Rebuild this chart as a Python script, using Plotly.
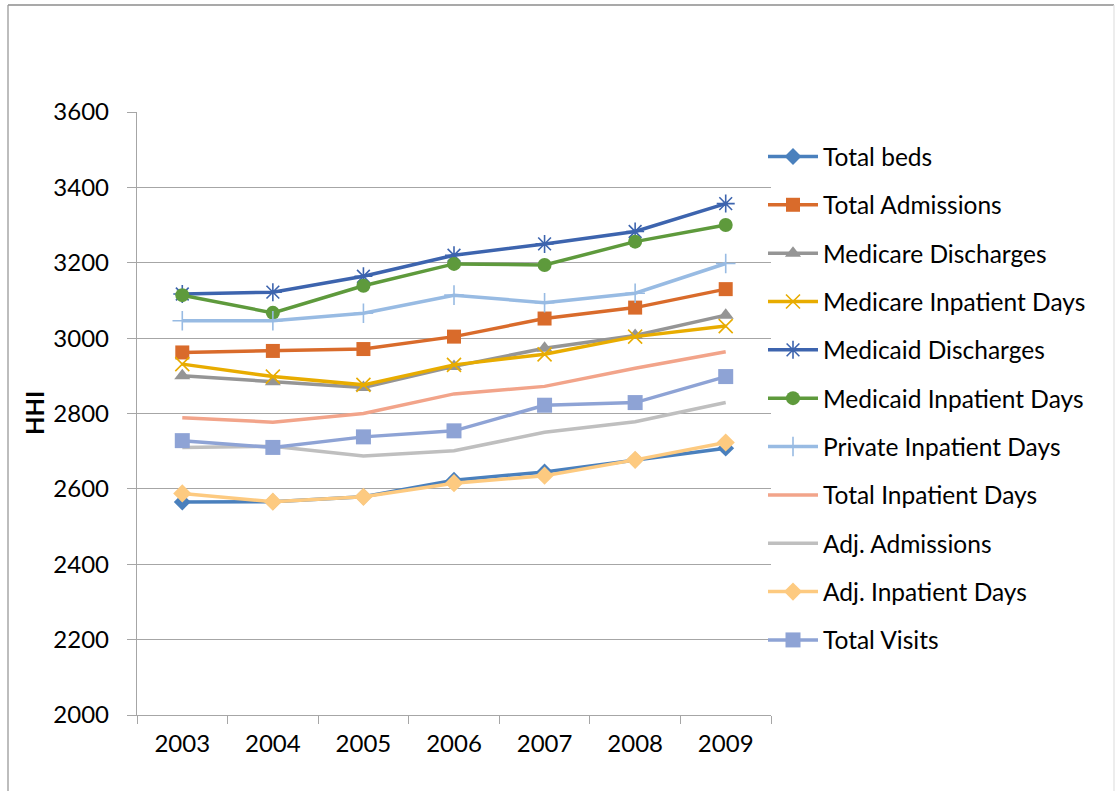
import plotly.graph_objects as go

# HHI by measure, 2003-2009
years = ["2003", "2004", "2005", "2006", "2007", "2008", "2009"]

total_beds = [2565, 2566, 2579, 2623, 2645, 2677, 2708]
total_admissions = [2962, 2966, 2971, 3004, 3052, 3081, 3130]
medicare_discharges = [2900, 2884, 2869, 2925, 2973, 3007, 3061]
medicare_inpatient_days = [2931, 2898, 2876, 2929, 2957, 3004, 3032]
medicaid_discharges = [3117, 3122, 3164, 3220, 3250, 3283, 3357]
medicaid_inpatient_days = [3114, 3067, 3139, 3197, 3194, 3256, 3300]
private_inpatient_days = [3046, 3046, 3066, 3114, 3094, 3119, 3198]
total_inpatient_days = [2789, 2777, 2800, 2852, 2872, 2920, 2964]
adj_admissions = [2710, 2713, 2687, 2701, 2750, 2778, 2829]
adj_inpatient_days = [2588, 2566, 2579, 2615, 2635, 2677, 2723]
total_visits = [2728, 2710, 2738, 2754, 2822, 2829, 2898]

FONT = "Lato"
GRID = "#a6a6a6"

series = [
    ("Total beds", total_beds, "#4a80bd", "diamond", 13, None),
    ("Total Admissions", total_admissions, "#d96b2b", "square", 14, None),
    ("Medicare Discharges", medicare_discharges, "#959595", "triangle-up", 14, None),
    ("Medicare Inpatient Days", medicare_inpatient_days, "#e8ac00", "x-thin-open", 14, 1.6),
    ("Medicaid Discharges", medicaid_discharges, "#3d64ae", "asterisk-open", 15, 1.6),
    ("Medicaid Inpatient Days", medicaid_inpatient_days, "#5e9a3c", "circle", 14, None),
    ("Private Inpatient Days", private_inpatient_days, "#98bbe3", "cross-thin-open", 14, 1.6),
    ("Total Inpatient Days", total_inpatient_days, "#f2a48a", None, 0, None),
    ("Adj. Admissions", adj_admissions, "#bfbfbf", None, 0, None),
    ("Adj. Inpatient Days", adj_inpatient_days, "#fdca80", "diamond", 14, None),
    ("Total Visits", total_visits, "#8ea3d5", "square", 15, None),
]

fig = go.Figure()
for i, (name, vals, color, symbol, size, mlw) in enumerate(series):
    kw = dict(
        x=years, y=vals, name=name, legendgroup=f"g{i}",
        line=dict(color=color, width=3.5),
        hoverinfo="x+y+name",
    )
    if symbol is None:
        kw["mode"] = "lines"
    else:
        kw["mode"] = "lines+markers"
        marker = dict(symbol=symbol, size=size, color=color)
        if mlw:
            marker["line"] = dict(color=color, width=mlw)
        kw["marker"] = marker
    fig.add_trace(go.Scatter(**kw))

W, H = 1116, 791
L, R, T, B = 137, 345, 112, 76
pw, ph = W - L - R, H - T - B


def px(xp):
    return (xp - L) / pw


def py(yp):
    return (H - B - yp) / ph


fig.update_layout(
    width=W, height=H,
    margin=dict(l=L, r=R, t=T, b=B, pad=0),
    paper_bgcolor="white", plot_bgcolor="white",
    font=dict(family=FONT, size=24, color="#000000"),
    showlegend=True,
    legend=dict(
        x=px(763), y=py(134), xanchor="left", yanchor="top",
        font=dict(family=FONT, size=24.5, color="#000000"),
        tracegroupgap=13.5, itemwidth=50,
        bgcolor="rgba(0,0,0,0)",
    ),
    xaxis=dict(
        type="category", range=[-0.5, 6.5],
        showgrid=False, zeroline=False,
        showline=True, linecolor=GRID, linewidth=1.3,
        ticks="outside", tickson="boundaries", ticklen=8,
        tickcolor=GRID, tickwidth=1.3,
        tickfont=dict(family=FONT, size=24, color="#000000"),
        ticklabelstandoff=7,
    ),
    yaxis=dict(
        range=[2000, 3600], dtick=200, tick0=2000,
        showgrid=True, gridcolor=GRID, gridwidth=1.3,
        zeroline=False,
        showline=True, linecolor=GRID, linewidth=1.3,
        ticks="outside", ticklen=9, tickcolor=GRID, tickwidth=1.3,
        tickfont=dict(family=FONT, size=24, color="#000000"),
        ticklabelstandoff=13,
    ),
    annotations=[
        dict(
            text="<b>HHI</b>", xref="paper", yref="paper",
            x=px(35), y=py(413), xanchor="center", yanchor="middle",
            textangle=-90, showarrow=False,
            font=dict(family=FONT, size=24, color="#000000"),
        )
    ],
    shapes=[
        # chart frame
        dict(type="line", xref="paper", yref="paper",
             x0=px(8), x1=px(1114), y0=py(5), y1=py(5),
             line=dict(color="#8c8c8c", width=1.5)),
        dict(type="line", xref="paper", yref="paper",
             x0=px(8), x1=px(8), y0=py(5), y1=py(800),
             line=dict(color="#9a9a9a", width=1.3)),
        dict(type="line", xref="paper", yref="paper",
             x0=px(1114), x1=px(1114), y0=py(5), y1=py(800),
             line=dict(color="#e3e3e3", width=1.3)),
    ],
)

fig.write_html("out.html")
